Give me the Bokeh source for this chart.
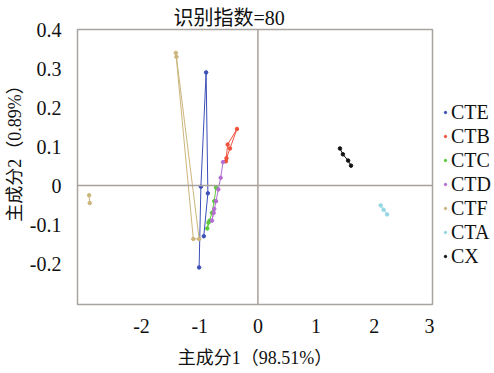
import math
from bokeh.plotting import figure
from bokeh.layouts import row
from bokeh.models import Legend, LegendItem, Span, FixedTicker
from bokeh.embed import file_html
from bokeh.resources import INLINE

nan = float("nan")

series_names = ["CTE", "CTB", "CTC", "CTD", "CTF", "CTA", "CX"]
CTE_x = [-1.01, -0.98, -0.89, -0.86, -0.93]
CTE_y = [-0.21, -0.003, 0.29, -0.02, -0.13]
CTB_x = [-0.55, -0.52, -0.36, -0.48, -0.54]
CTB_y = [0.062, 0.105, 0.145, 0.095, 0.07]
CTC_x = [-0.72, -0.75, -0.79, -0.83, -0.87, -0.85]
CTC_y = [-0.005, -0.04, -0.07, -0.09, -0.11, -0.095]
CTD_x = [-0.60, -0.64, -0.68, -0.72, -0.76, -0.79, -0.75]
CTD_y = [0.06, 0.02, -0.01, -0.04, -0.07, -0.09, -0.06]
CTF_x = [-1.41, -1.11, -1.01, -1.40, nan, -2.90, -2.89]
CTF_y = [0.34, -0.137, -0.137, 0.33, nan, -0.025, -0.045]
CTA_x = [2.11, 2.16, 2.22]
CTA_y = [-0.051, -0.062, -0.074]
CX_x = [1.41, 1.46, 1.55, 1.60]
CX_y = [0.095, 0.08, 0.064, 0.051]

x_ticks = [-2, -1, 0, 1, 2, 3]
x_tick_labels = ["-2", "-1", "0", "1", "2", "3"]
y_ticks = [-0.2, -0.1, 0, 0.1, 0.2, 0.3, 0.4]
y_tick_labels = ["-0.2", "-0.1", "0", "0.1", "0.2", "0.3", "0.4"]

title_text = "识别指数=80"
x_label = "主成分1（98.51%）"
y_label = "主成分2（0.89%）"

colors = ["#3c4fb8", "#f0503c", "#5cc83c", "#b46ed2", "#cbb57a", "#93d6e4", "#111111"]
xs = [CTE_x, CTB_x, CTC_x, CTD_x, CTF_x, CTA_x, CX_x]
ys = [CTE_y, CTB_y, CTC_y, CTD_y, CTF_y, CTA_y, CX_y]

FONT = "Liberation Serif, Noto Sans CJK SC"

p = figure(width=434, height=373, output_backend="svg", toolbar_location=None,
           x_range=(-3.1, 3.0), y_range=(-0.305, 0.4),
           min_border_left=77, min_border_right=2, min_border_top=29, min_border_bottom=69)
p.background_fill_color = "white"
p.border_fill_color = "white"
p.outline_line_color = "#a8a4a0"
p.outline_line_width = 1.5
p.grid.visible = False

p.title.text = title_text
p.title.align = "left"
p.title.offset = 96
p.title.text_font = FONT
p.title.text_font_size = "20px"
p.title.text_font_style = "normal"
p.title.text_color = "#111111"
p.title.standoff = 2

# zero lines
p.add_layout(Span(location=0, dimension="width", line_color="#a8a09a", line_width=1.5))
p.add_layout(Span(location=0, dimension="height", line_color="#a8a09a", line_width=1.5))

for ax in (p.xaxis[0], p.yaxis[0]):
    ax.axis_line_color = None
    ax.major_tick_line_color = None
    ax.minor_tick_line_color = None
    ax.major_label_text_font = FONT
    ax.major_label_text_font_size = "20px"
    ax.major_label_text_color = "#111111"
    ax.axis_label_text_font = FONT
    ax.axis_label_text_font_size = "18px"
    ax.axis_label_text_font_style = "normal"
    ax.axis_label_text_color = "#111111"

p.xaxis.ticker = FixedTicker(ticks=x_ticks)
p.xaxis.major_label_overrides = {t: l for t, l in zip(x_ticks, x_tick_labels)}
p.yaxis.ticker = FixedTicker(ticks=y_ticks)
p.yaxis.major_label_overrides = {t: l for t, l in zip(y_ticks, y_tick_labels)}
p.xaxis.axis_label = x_label
p.yaxis.axis_label = "\u3000\u3000" + y_label
p.xaxis.major_label_standoff = 8
p.yaxis.major_label_standoff = 10
p.xaxis.axis_label_standoff = 12
p.yaxis.axis_label_standoff = 2

for x, y, c in zip(xs, ys, colors):
    p.line(x, y, line_color=c, line_width=1)
    p.scatter(x, y, size=3.5, fill_color=c, line_color=c)

# legend panel (its ranges keep the series' own points out of view; only legend keys show)
q = figure(width=60, height=373, output_backend="svg", toolbar_location=None,
           x_range=(10, 11), y_range=(10, 11), x_axis_location=None, y_axis_location=None,
           min_border_left=0, min_border_right=0, min_border_top=0, min_border_bottom=0)
q.outline_line_color = None
q.grid.visible = False
q.background_fill_color = "white"
q.border_fill_color = "white"
items = []
for name, x, y, c in zip(series_names, xs, ys, colors):
    r = q.scatter(x, y, size=3, fill_color=c, line_color=c)
    items.append(LegendItem(label=name, renderers=[r]))

legend = Legend(items=items, location=(8, 36), border_line_color=None,
                background_fill_alpha=0, padding=0, margin=0, spacing=0,
                glyph_width=6, glyph_height=24, label_height=24, label_standoff=3,
                label_text_font=FONT, label_text_font_size="20px", label_text_color="#111111")
q.add_layout(legend, "center")

layout = row(p, q, spacing=0)
open("out.html", "w").write(file_html(layout, INLINE))
